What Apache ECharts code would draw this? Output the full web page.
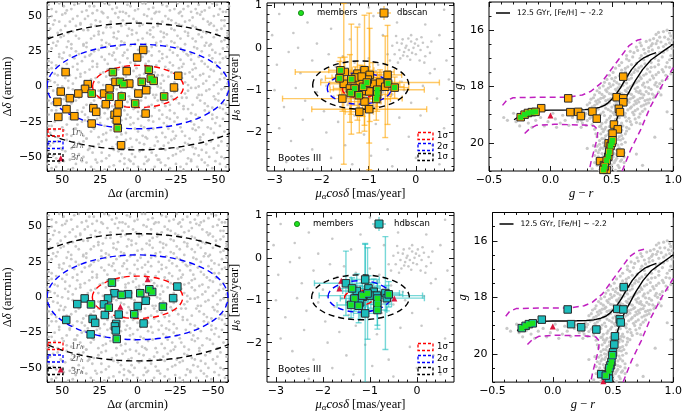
<!DOCTYPE html>
<html><head><meta charset="utf-8">
<script src="https://cdn.jsdelivr.net/npm/echarts@6/dist/echarts.min.js"></script>
<style>html,body{margin:0;padding:0;background:#fff}#c{width:685px;height:413px}</style>
</head><body><div id="c"></div>
<script>
// ---------------- tick labels ----------------
const spatialTicks=[50,25,0,-25,-50];
const pmXTicks=[-3,-2,-1,0];
const pmYTicks=[1,0,-1,-2];
const cmdXTicks=[-0.5,0,0.5,1];
const cmdYTicks=[16,18,20];

// ---------------- background (grey) stars ----------------
const bgSpatialA=[[57,-58],[52,-54],[46,-59],[41,-55],[37,-53],[31,-57],[27,-54],[22,-59],[16,-56],[12,-53],[7,-58],[3,-55],[-2,-59],[-6,-53],[-11,-57],[-15,-54],[-21,-58],[-25,-55],[-30,-59],[-35,-53],[-39,-57],[-44,-54],[-49,-58],[-54,-55],[-58,-57],
[59,-47],[54,-51],[48,-46],[43,-50],[39,-48],[33,-45],[28,-52],[24,-47],[19,-49],[13,-46],[9,-51],[4,-48],[-1,-46],[-5,-50],[-9,-47],[-14,-52],[-18,-45],[-23,-49],[-28,-46],[-33,-51],[-37,-48],[-42,-45],[-47,-50],[-52,-47],[-57,-51],
[56,-40],[51,-44],[47,-38],[42,-42],[36,-39],[32,-44],[26,-41],[21,-38],[17,-43],[10,-40],[6,-44],[1,-38],[-4,-41],[-8,-44],[-13,-39],[-17,-42],[-22,-38],[-26,-44],[-31,-40],[-36,-43],[-41,-38],[-45,-41],[-50,-44],[-55,-39],[-59,-42],
[58,-33],[53,-36],[49,-31],[44,-35],[38,-32],[34,-37],[29,-30],[23,-34],[18,-31],[14,-36],[8,-33],[2,-30],[-3,-35],[-7,-31],[-12,-36],[-16,-33],[-20,-30],[-25,-35],[-29,-32],[-34,-37],[-38,-31],[-43,-34],[-48,-30],[-53,-36],[-57,-32],
[55,-25],[50,-29],[45,-23],[40,-27],[35,-24],[30,-29],[25,-26],[20,-23],[15,-28],[11,-24],[5,-27],[0,-23],[-4,-29],[-10,-25],[-14,-23],[-19,-28],[-24,-25],[-28,-29],[-32,-23],[-37,-27],[-42,-24],[-46,-29],[-51,-26],[-56,-23],[59,-28],
[57,-17],[52,-21],[47,-16],[43,-20],[37,-18],[33,-22],[27,-15],[22,-19],[18,-22],[12,-17],[7,-20],[3,-16],[-2,-21],[-7,-18],[-11,-15],[-16,-20],[-21,-17],[-26,-22],[-30,-16],[-35,-19],[-40,-22],[-44,-17],[-49,-20],[-54,-15],[-58,-19],
[59,-10],[54,-14],[49,-9],[44,-12],[39,-8],[34,-13],[29,-10],[24,-14],[19,-8],[14,-11],[9,-14],[5,-9],[0,-12],[-5,-8],[-9,-13],[-13,-10],[-18,-14],[-23,-9],[-27,-12],[-32,-8],[-36,-13],[-41,-10],[-46,-14],[-51,-9],[-56,-12],
[56,-3],[51,-6],[46,-1],[41,-5],[36,-2],[31,-7],[26,-3],[21,-6],[16,-1],[11,-4],[6,-7],[2,-2],[-3,-5],[-8,-1],[-12,-6],[-17,-3],[-22,-7],[-26,-2],[-31,-5],[-35,-1],[-40,-6],[-45,-3],[-50,-7],[-55,-2],[-59,-5],
[58,4],[53,1],[48,6],[43,2],[38,7],[33,3],[28,6],[23,1],[18,5],[13,2],[8,7],[4,3],[-1,6],[-6,1],[-10,5],[-15,2],[-20,7],[-24,3],[-29,6],[-33,1],[-38,5],[-43,2],[-47,7],[-52,3],[-57,6],
[55,9],[50,13],[45,8],[40,12],[35,10],[30,14],[25,9],[20,12],[15,8],[10,14],[6,10],[1,13],[-4,9],[-9,12],[-13,8],[-18,14],[-22,10],[-27,13],[-31,9],[-36,12],[-41,8],[-46,14],[-50,11],[-55,9],[59,12],
[57,17],[52,21],[47,16],[42,20],[37,18],[32,22],[27,16],[22,19],[17,22],[12,17],[7,20],[2,16],[-3,21],[-7,18],[-12,15],[-16,20],[-21,17],[-26,22],[-30,16],[-35,19],[-40,21],[-44,16],[-49,20],[-54,17],[-58,21],
[59,25],[54,29],[49,24],[44,27],[39,23],[34,28],[29,25],[24,29],[19,23],[14,27],[9,24],[5,29],[0,26],[-5,23],[-9,28],[-14,25],[-19,29],[-23,24],[-28,27],[-32,23],[-37,28],[-42,25],[-47,29],[-51,24],[-56,27],
[56,31],[51,35],[46,32],[41,36],[36,30],[31,34],[26,37],[21,31],[16,35],[11,32],[7,36],[2,30],[-3,34],[-8,37],[-12,31],[-17,35],[-22,32],[-26,36],[-31,30],[-36,34],[-40,37],[-45,31],[-50,35],[-55,32],[-59,36],
[58,41],[53,38],[48,43],[43,39],[38,44],[33,40],[28,43],[23,38],[18,42],[13,39],[8,44],[4,40],[-1,43],[-6,38],[-10,42],[-15,39],[-20,44],[-24,40],[-29,43],[-33,38],[-38,42],[-43,39],[-47,44],[-52,40],[-57,43],
[55,47],[50,51],[45,46],[40,50],[35,48],[30,52],[25,46],[20,49],[15,52],[10,47],[6,50],[1,46],[-4,51],[-9,48],[-13,45],[-18,50],[-22,47],[-27,52],[-31,46],[-36,49],[-41,51],[-46,46],[-50,50],[-55,47],[59,49],
[57,55],[52,59],[47,54],[42,58],[37,53],[32,57],[27,54],[22,59],[17,55],[12,53],[7,58],[2,54],[-3,59],[-7,55],[-12,53],[-16,58],[-21,54],[-26,59],[-30,55],[-35,53],[-40,58],[-44,54],[-49,59],[-54,55],[-58,53]];
const bgSpatialB=[[60,-55],[54,-57],[49,-53],[43,-58],[34,-54],[29,-59],[24,-53],[19,-57],[9,-55],[5,-53],[0,-57],[-4,-55],[-9,-59],[-13,-52],[-18,-56],[-28,-57],[-32,-55],[-42,-52],[-46,-56],[-51,-53],
[56,-49],[50,-45],[45,-52],[36,-50],[30,-47],[21,-51],[16,-45],[11,-48],[6,-52],[2,-50],[-3,-45],[-7,-52],[-12,-49],[-20,-51],[-25,-48],[-30,-45],[-35,-52],[-40,-49],[-45,-47],[-55,-50],
[58,-42],[53,-39],[44,-44],[39,-40],[34,-37],[29,-43],[24,-39],[14,-41],[8,-38],[4,-43],[-1,-40],[-6,-37],[-11,-42],[-15,-44],[-20,-40],[-24,-37],[-33,-41],[-38,-44],[-48,-39],[-53,-42],
[60,-36],[55,-31],[47,-34],[41,-30],[36,-35],[31,-32],[26,-36],[21,-33],[16,-30],[11,-34],[5,-37],[0,-32],[-5,-36],[-10,-30],[-18,-36],[-23,-32],[-31,-35],[-36,-30],[-41,-36],[-50,-33],
[57,-28],[52,-23],[47,-27],[42,-30],[37,-25],[27,-23],[22,-28],[17,-25],[13,-30],[8,-23],[3,-26],[-2,-28],[-7,-24],[-17,-26],[-21,-23],[-26,-27],[-35,-25],[-40,-29],[-49,-23],[-54,-28],
[59,-20],[54,-17],[45,-22],[40,-17],[35,-20],[30,-18],[25,-22],[20,-16],[15,-19],[9,-17],[5,-22],[0,-18],[-4,-16],[-9,-21],[-14,-17],[-19,-22],[-24,-19],[-33,-16],[-38,-20],[-47,-18],[-52,-22],[-56,-16],
[57,-12],[52,-9],[47,-13],[41,-10],[36,-15],[31,-12],[26,-8],[21,-11],[17,-14],[12,-8],[7,-11],[2,-15],[-2,-10],[-7,-14],[-11,-8],[-16,-11],[-21,-13],[-25,-9],[-30,-14],[-39,-8],[-44,-12],[-49,-15],[-53,-10],[-58,-13],
[59,-1],[53,-4],[48,-7],[43,-2],[38,-5],[33,-1],[28,-6],[23,-3],[19,-8],[14,-2],[9,-5],[4,-1],[0,-7],[-5,-3],[-10,-6],[-15,-1],[-19,-5],[-24,-4],[-29,-8],[-33,-3],[-38,-1],[-42,-6],[-47,-2],[-53,-5],[-57,-1],
[60,7],[55,3],[50,0],[46,4],[41,6],[36,1],[31,5],[26,3],[21,7],[16,0],[11,4],[6,2],[1,7],[-3,3],[-8,6],[-13,0],[-17,4],[-22,1],[-26,6],[-31,3],[-36,7],[-40,0],[-45,4],[-50,1],[-54,5],[-59,2],
[57,13],[53,8],[48,11],[43,14],[38,9],[32,12],[27,14],[23,10],[18,8],[13,12],[8,9],[3,11],[-1,8],[-6,14],[-11,10],[-16,8],[-20,12],[-25,8],[-29,14],[-34,10],[-38,13],[-43,9],[-48,12],[-52,14],[-57,10],
[59,18],[54,15],[50,20],[45,22],[40,16],[35,21],[30,18],[24,21],[20,16],[15,19],[10,22],[5,17],[0,20],[-5,16],[-9,22],[-14,18],[-19,21],[-23,15],[-28,19],[-33,22],[-37,16],[-42,18],[-47,22],[-51,17],[-56,20],
[57,27],[52,23],[47,28],[41,25],[36,29],[31,23],[26,26],[21,28],[16,24],[12,29],[7,26],[2,23],[-2,28],[-7,25],[-12,29],[-16,23],[-21,26],[-26,28],[-30,25],[-35,23],[-39,27],[-44,29],[-49,26],[-54,23],[-59,28],
[58,35],[53,32],[49,36],[44,30],[39,34],[34,31],[29,36],[24,33],[19,30],[14,34],[9,31],[4,37],[0,33],[-5,30],[-10,35],[-15,32],[-19,37],[-24,31],[-28,34],[-33,36],[-38,32],[-42,35],[-48,30],[-52,37],[-57,33],
[56,44],[51,40],[46,38],[41,43],[36,40],[31,44],[26,39],[21,42],[16,38],[11,43],[6,41],[1,38],[-3,44],[-8,40],[-13,43],[-17,38],[-22,41],[-27,44],[-31,39],[-36,43],[-41,40],[-45,38],[-50,43],[-55,41],[-59,38],
[57,50],[52,46],[48,52],[43,48],[38,45],[33,50],[28,47],[23,52],[18,46],[13,49],[8,52],[3,48],[-1,45],[-6,50],[-11,52],[-16,46],[-20,48],[-25,45],[-29,50],[-34,47],[-39,52],[-43,48],[-48,45],[-53,51],[-57,47],
[59,58],[54,53],[49,57],[44,55],[39,59],[34,54],[29,57],[24,53],[19,58],[14,56],[10,53],[5,57],[0,55],[-5,59],[-10,56],[-14,53],[-19,57],[-24,55],[-28,53],[-33,57],[-38,55],[-42,53],[-47,56],[-52,58],[-56,53],[-60,57]];

const bgPM=[[-0.3,0.1],[-0.2,0.05],[-0.15,-0.05],[-0.25,-0.1],[-0.1,0.15],[-0.05,0.0],[-0.35,-0.05],[-0.4,0.12],[0.0,-0.15],[0.05,0.05],[-0.18,-0.2],[-0.28,0.2],[-0.12,-0.28],[0.1,-0.05],[0.15,0.12],[-0.45,-0.15],[-0.22,0.0],[-0.08,-0.12],[0.02,0.2],[-0.33,-0.25],[0.2,-0.2],[-0.5,0.05],[0.08,-0.3],[-0.16,0.22],[0.25,0.02],[-0.38,-0.35],[0.3,-0.12],[-0.02,0.1],[-0.27,-0.18],[0.12,0.25],[-0.55,-0.3],[-0.1,0.3],[0.18,-0.35],[-0.42,0.28],[0.33,0.15],
[-2.9,0.8],[-2.6,0.35],[-2.3,0.6],[-2.1,0.1],[-1.8,0.45],[-1.6,0.85],[-1.4,0.2],[-1.2,0.55],[-0.9,0.75],[-0.7,0.3],[-0.4,0.6],[0.2,0.55],[0.5,0.3],[0.6,0.9],[-2.95,-0.4],[-2.7,-0.1],[-2.45,-0.6],[-2.2,-0.3],[-2.0,-0.75],[-1.85,-0.15],[-1.7,-0.45],[-1.55,-0.2],[-1.3,-0.35],[-1.0,-0.25],[-0.8,-0.4],[-0.6,-0.15],[0.4,-0.5],[0.65,-0.3],[-3.0,-1.0],[-2.8,-1.4],[-2.55,-0.95],[-2.35,-1.25],[-2.1,-1.05],[-1.95,-1.5],[-1.75,-1.15],[-1.6,-0.95],[-1.45,-1.35],[-1.25,-0.9],[-1.05,-1.15],[-0.9,-0.7],[-0.75,-1.3],[-0.5,-1.1],[-0.3,-0.8],[-0.1,-1.3],[0.15,-0.9],[0.45,-1.2],[0.7,-0.75],[-2.9,-1.9],[-2.65,-2.2],[-2.4,-1.7],[-2.2,-2.4],[-1.9,-2.0],[-1.65,-1.75],[-1.5,-2.3],[-1.3,-1.6],[-1.1,-2.05],[-0.85,-1.8],[-0.6,-2.4],[-0.35,-1.65],[-0.15,-2.1],[0.1,-1.6],[0.35,-2.3],[0.6,-1.9],[-2.75,-2.7],[-2.3,-2.85],[-1.8,-2.6],[-1.35,-2.75],[-0.95,-2.55],[-0.5,-2.8],[0.0,-2.6],[0.5,-2.75],[-1.15,-0.6],[-1.4,-0.7],[-0.95,-1.0],[-1.3,-1.2],[-0.85,-0.55],[-1.5,-1.05],[-1.05,-0.45],[-0.7,-1.05],[-1.2,-1.35],[-1.65,-0.6],[-0.55,-0.65],[-1.9,-0.9],[-2.5,0.0],[-0.25,-1.0],[0.3,-0.6],[-2.0,0.8],[-1.0,0.95],[-0.2,0.8],[-3.05,0.3]];

const bgCMDA=[[0.45,20.95],[0.50,20.9],[0.41,20.85],[0.55,20.8],[0.47,20.75],[0.36,20.7],[0.52,20.7],[0.44,20.62],[0.58,20.6],[0.49,20.55],[0.39,20.5],[0.46,20.45],[0.54,20.42],[0.42,20.38],[0.60,20.35],[0.50,20.3],[0.37,20.28],[0.47,20.22],[0.56,20.18],[0.44,20.12],[0.52,20.08],[0.40,20.05],[0.49,20.0],[0.61,19.98],[0.46,19.92],[0.55,19.88],[0.42,19.85],[0.51,19.8],[0.38,19.78],[0.58,19.74],[0.47,19.7],[0.53,19.65],[0.43,19.6],[0.62,19.58],[0.50,19.55],[0.36,19.52],[0.56,19.48],[0.45,19.45],[0.40,19.42],[0.59,19.4],
[0.34,20.92],[0.53,20.98],[0.57,20.65],[0.43,20.88],[0.48,20.68],[0.38,20.58],[0.51,20.5],[0.45,20.3],[0.54,20.25],[0.41,20.18],[0.58,20.05],[0.47,19.98],[0.44,19.85],[0.53,19.72],[0.49,19.62],[0.61,19.68],[0.41,19.68],[0.55,19.58],[0.48,19.42],[0.52,19.5],[0.46,20.8],[0.49,20.4],[0.51,20.15],[0.43,20.0],[0.57,19.9],[0.39,20.35],[0.5,19.75],[0.64,19.5],[0.35,20.1],[0.6,20.5],
[0.26,19.3],[0.30,19.21],[0.34,19.35],[0.38,19.24],[0.42,19.31],[0.46,19.19],[0.50,19.34],[0.54,19.26],[0.58,19.3],[0.62,19.22],[0.66,19.35],[0.70,19.28],[0.28,19.05],[0.32,19.13],[0.36,19.01],[0.40,19.1],[0.44,19.03],[0.48,19.12],[0.52,19.0],[0.56,19.11],[0.60,19.02],[0.64,19.13],[0.68,19.0],[0.72,19.09],[0.27,18.9],[0.31,18.84],[0.35,18.93],[0.39,18.8],[0.43,18.91],[0.47,18.82],[0.51,18.93],[0.55,18.8],[0.59,18.9],[0.63,18.83],[0.67,18.92],[0.71,18.8],[0.75,18.88],[0.30,18.65],[0.34,18.72],[0.38,18.61],[0.42,18.7],[0.46,18.62],[0.50,18.73],[0.54,18.6],[0.58,18.71],[0.62,18.62],[0.66,18.72],[0.70,18.6],[0.74,18.7],[0.78,18.62],[0.33,18.45],[0.37,18.52],[0.41,18.42],[0.45,18.5],[0.49,18.44],[0.53,18.52],[0.57,18.42],[0.61,18.5],[0.65,18.44],[0.69,18.52],[0.73,18.42],[0.77,18.5],[0.81,18.45],
[0.36,18.3],[0.40,18.22],[0.44,18.35],[0.48,18.25],[0.52,18.32],[0.56,18.2],[0.60,18.3],[0.64,18.24],[0.68,18.36],[0.72,18.22],[0.76,18.3],[0.80,18.25],[0.85,18.33],[0.40,18.05],[0.45,18.12],[0.49,18.0],[0.53,18.1],[0.57,18.02],[0.61,18.14],[0.65,18.0],[0.69,18.08],[0.73,18.15],[0.77,18.02],[0.82,18.1],[0.87,18.0],[0.44,17.85],[0.48,17.9],[0.52,17.8],[0.56,17.92],[0.60,17.84],[0.64,17.75],[0.68,17.9],[0.72,17.8],[0.76,17.88],[0.81,17.76],[0.86,17.86],[0.91,17.8],[0.48,17.6],[0.53,17.68],[0.58,17.55],[0.63,17.62],[0.68,17.5],[0.73,17.66],[0.78,17.55],[0.83,17.62],[0.88,17.5],[0.94,17.6],[0.53,17.35],[0.58,17.42],[0.63,17.3],[0.69,17.4],[0.74,17.28],[0.79,17.38],[0.85,17.3],[0.91,17.4],[0.97,17.32],[0.58,17.15],[0.64,17.08],[0.70,17.18],[0.76,17.05],[0.82,17.15],[0.88,17.08],[0.95,17.15],
[0.62,16.9],[0.68,16.8],[0.74,16.9],[0.80,16.75],[0.86,16.88],[0.92,16.78],[0.98,16.9],[0.70,16.6],[0.76,16.68],[0.82,16.55],[0.88,16.62],[0.94,16.5],[0.99,16.65],[0.78,16.4],[0.84,16.3],[0.90,16.42],[0.96,16.32],[0.86,16.15],[0.92,16.05],[0.98,16.2],[0.95,16.0],[0.89,16.25],[0.83,16.48],[0.73,16.45],
[-0.35,19.2],[-0.28,19.25],[-0.22,19.18],[-0.18,19.3],[-0.12,19.2],[-0.08,19.1],[-0.02,19.25],[0.04,19.15],[0.08,19.3],[0.12,19.2],[0.18,19.1],[0.22,19.25],[-0.25,19.4],[-0.15,19.45],[-0.05,19.4],[0.05,19.45],[0.15,19.38],[-0.3,18.95],[0.02,18.95],[0.1,19.02],[0.2,18.98],[-0.38,19.1],[0.25,19.45],[0.9,18.3],[0.95,18.9],[0.98,19.5],[0.85,19.8],[0.7,20.4],[0.3,20.2],[0.75,20.8]];
const bgCMDB=[[0.40,20.97],[0.48,20.93],[0.56,20.88],[0.38,20.8],[0.44,20.78],[0.50,20.78],[0.53,20.62],[0.41,20.6],[0.46,20.57],[0.36,20.45],[0.43,20.48],[0.56,20.45],[0.48,20.35],[0.52,20.38],[0.40,20.25],[0.58,20.25],[0.43,20.2],[0.50,20.2],[0.38,20.12],[0.47,20.1],[0.55,20.08],[0.45,20.02],[0.52,19.95],[0.40,19.92],[0.59,19.85],[0.48,19.86],[0.37,19.68],[0.45,19.75],[0.56,19.78],[0.44,19.52],[0.58,19.55],[0.51,19.45],[0.42,19.5],[0.62,19.45],[0.47,19.58],[0.54,20.55],[0.50,20.62],[0.46,20.9],[0.39,20.7],[0.6,20.7],
[0.25,19.2],[0.29,19.38],[0.33,19.08],[0.37,19.17],[0.41,19.4],[0.45,19.27],[0.49,19.05],[0.53,19.17],[0.57,19.38],[0.61,19.08],[0.65,19.25],[0.69,19.15],[0.73,19.32],[0.24,19.05],[0.29,18.96],[0.33,18.8],[0.37,18.87],[0.41,18.98],[0.45,18.77],[0.49,18.87],[0.53,18.97],[0.57,18.86],[0.61,18.95],[0.65,18.77],[0.69,18.86],[0.73,18.97],[0.77,18.8],[0.32,18.58],[0.36,18.67],[0.40,18.55],[0.44,18.65],[0.48,18.57],[0.52,18.66],[0.56,18.55],[0.60,18.67],[0.64,18.56],[0.68,18.65],[0.72,18.55],[0.76,18.66],[0.80,18.58],[0.35,18.4],[0.39,18.47],[0.43,18.4],[0.47,18.47],[0.51,18.4],[0.55,18.46],[0.59,18.38],[0.63,18.47],[0.67,18.4],[0.71,18.47],[0.75,18.4],[0.79,18.47],[0.84,18.4],
[0.38,18.15],[0.42,18.28],[0.46,18.18],[0.50,18.27],[0.54,18.15],[0.58,18.25],[0.62,18.18],[0.66,18.28],[0.70,18.17],[0.74,18.26],[0.78,18.18],[0.83,18.27],[0.88,18.2],[0.43,17.98],[0.47,18.06],[0.51,17.94],[0.55,18.05],[0.59,17.96],[0.63,18.06],[0.67,17.95],[0.71,18.03],[0.75,17.95],[0.80,18.04],[0.85,17.94],[0.90,18.05],[0.46,17.75],[0.50,17.72],[0.54,17.86],[0.58,17.7],[0.62,17.88],[0.66,17.7],[0.70,17.85],[0.74,17.72],[0.79,17.84],[0.84,17.7],[0.89,17.9],[0.95,17.72],[0.51,17.5],[0.56,17.62],[0.61,17.48],[0.66,17.58],[0.71,17.45],[0.76,17.6],[0.81,17.48],[0.86,17.58],[0.92,17.48],[0.98,17.55],[0.56,17.25],[0.61,17.36],[0.66,17.22],[0.72,17.34],[0.77,17.2],[0.82,17.32],[0.88,17.22],[0.94,17.3],[0.62,17.02],[0.67,16.95],[0.73,17.0],[0.79,16.92],[0.85,17.0],[0.91,16.95],[0.97,17.05],
[0.65,16.75],[0.71,16.72],[0.77,16.82],[0.83,16.7],[0.89,16.8],[0.95,16.7],[0.74,16.55],[0.80,16.62],[0.86,16.48],[0.92,16.58],[0.97,16.45],[0.81,16.35],[0.87,16.38],[0.93,16.25],[0.99,16.35],[0.88,16.08],[0.97,16.1]];

// ---------------- top row: DBSCAN ----------------
const dbSpX=[-3.4,0.6,47.8,7.5,-26.5,-23.7,33.2,35,39.4,51,53.2,45,22.4,18.8,14.9,5.8,-5.4,-0.2,21.3,29.5,27.6,47.2,52.6,42,15.5,13.6,12.7,14,-5,30.6,11.2];
const dbSpY=[26,20.6,10.2,10.9,7.6,-0.7,1.7,-1.7,-5,-3.6,-10.9,-8.3,-5,-1.2,3.3,2.1,-2.6,-5,-12.6,-15.4,-18,-16.1,-21.6,-21.1,-20.1,-18.5,-12.6,-23.9,-19.2,-26.3,-41.7];
const memDbSpX=[16.6,-7.1,-8.4,-10.3,-2.4,11.9,9.7,30.6,18.8,10.8,1.9,-17.2,13.4];
const memDbSpY=[10.2,11.9,5.7,4,3.3,3.3,1.7,-5,-7.3,-7.1,-12.1,-7.1,-29.6];
const missDbSp=[[51,-51]];

const dbPmX=[-1.51,-1.53,-1.24,-1.09,-0.98,-1.19,-1.40,-1.13,-0.99,-0.91,-0.76,-0.65,-0.60,-1.56,-1.09,-1.20,-0.99,-1.28,-1.02,-1.15];
const dbPmY=[-0.57,-0.85,-0.61,-0.53,-0.64,-0.81,-0.96,-1.02,-1.03,-0.85,-0.82,-0.92,-0.64,-1.20,-1.27,-1.51,-1.45,-0.70,-0.75,-0.68];
const dbPmXe=[1.05,0.3,0.35,0.2,0.25,0.3,0.35,0.3,0.25,0.4,1.26,0.4,0.3,1.27,0.35,0.3,1.22,0.5,0.2,0.15];
const dbPmYe=[0.35,1.9,1.1,1.3,1.1,0.4,0.8,0.6,1.85,0.5,0.3,1.2,1.17,0.3,0.7,0.5,0.8,0.25,0.3,0.2];
const memDbPmX=[-1.60,-1.62,-1.37,-1.30,-1.38,-1.21,-1.12,-1.04,-0.82,-0.82,-0.84,-0.59,-0.45];
const memDbPmY=[-0.53,-0.72,-0.74,-0.96,-1.07,-1.12,-0.92,-0.82,-0.99,-1.10,-1.21,-0.84,-0.94];
const memDbPmXe=[0.25,0.3,0.2,0.3,0.2,0.25,0.2,0.2,1.0,0.3,0.3,0.25,0.3];
const memDbPmYe=[0.3,0.4,1.3,0.4,0.5,0.5,0.3,0.3,0.4,0.4,0.5,0.3,0.25];
const missDbPm=[[-1.2,-0.9]];

const dbCmdX=[0.145,0.162,0.226,0.248,0.342,0.377,-0.075,0.593,0.539,0.593,0.593,0.557,0.566,0.517,0.549,0.506,0.474,0.571,0.404,0.436,0.458];
const dbCmdY=[18.42,18.91,18.90,19.05,18.89,19.14,18.77,17.65,18.38,18.42,18.56,18.79,18.91,19.35,19.52,19.67,20.02,20.35,20.65,20.79,20.96];
const memDbCmdX=[-0.242,-0.21,-0.183,-0.151,-0.121,0.49,0.5,0.471,0.458,0.442,0.506,0.431,0.479];
const memDbCmdY=[19.09,19.0,18.94,18.91,18.90,20.11,20.0,20.49,20.63,20.84,19.91,20.96,20.32];
const missDbCmd=[[0.0,19.03]];

// ---------------- bottom row: HDBSCAN ----------------
const hdSpX=[-26.4,-23.6,15.3,6.3,19.6,35.1,40,22.3,21.7,-0.1,-5.4,12.5,29.8,28.1,14.2,15,14.4,-4,47.3,31.1];
const hdSpY=[7.6,-0.6,2.9,2.2,-0.8,-0.8,-4.8,-5,-12.5,-6.2,-2.4,-12.2,-15.3,-18.1,-18.8,-20.6,-23.4,-18.5,-16,-26.2];
const memHdSpX=[17,-1.8,-9.7,-7.8,10.6,30.9,19.1,2.2,-16.8,13.8];
const memHdSpY=[10.4,2.9,3.8,5.7,1.7,-5,-7.3,-12,-6.6,-29.5];
const missHdSp=[[-6.7,12.7],[12.5,3.8],[11.4,-6.6],[51,-51]];

const hdPmX=[-1.51,-1.10,-1.28,-1.03,-0.92,-0.98,-1.15,-1.21,-1.10,-0.67,-0.64,-0.85];
const hdPmY=[-0.60,-0.51,-0.78,-0.72,-0.80,-0.89,-0.92,-1.05,-1.31,-0.83,-0.95,-0.89];
const hdPmXe=[0.67,0.3,0.3,0.25,0.2,1.1,0.2,0.3,0.25,0.3,0.8,0.2];
const hdPmYe=[0.76,0.85,0.4,0.3,0.3,0.3,0.25,0.4,1.63,1.33,0.3,0.2];
const memHdPmX=[-1.38,-1.33,-1.40,-1.24,-1.16,-1.05,-0.84,-0.84,-0.84,-0.60];
const memHdPmY=[-0.72,-0.96,-1.11,-1.13,-0.89,-0.84,-0.96,-1.09,-1.23,-0.86];
const memHdPmXe=[0.3,0.3,0.3,0.2,0.2,0.2,0.3,0.3,0.2,0.3];
const memHdPmYe=[0.25,0.3,0.3,0.4,0.3,1.08,0.3,0.5,0.45,0.3];
const missHdPm=[[-1.61,-0.54],[-1.65,-0.72],[-0.48,-0.96],[-1.26,-0.92]];

const hdCmdX=[0.124,0.152,0.236,0.362,-0.091,0.589,0.535,0.586,0.556,0.564,0.516,0.511,0.402,0.465,0.50];
const hdCmdY=[18.43,18.95,19.06,19.14,18.79,17.64,18.41,18.43,18.78,18.89,19.38,19.67,20.72,20.87,19.95];
const memHdCmdX=[-0.257,-0.225,-0.198,-0.166,0.487,0.479,0.466,0.44,0.495,0.47];
const memHdCmdY=[19.09,19.01,18.95,18.92,20.29,20.41,20.61,20.77,20.05,20.5];
const missHdCmd=[[-0.153,18.92],[0.0,19.03],[0.496,20.17],[0.42,20.97]];

// ---------------- ellipses [cx, cy, a, b] ----------------
const spatialEllipses=[[0,0,30,15],[0,0,60,30],[0,0,90,45]];
const pmEllDb=[[-1.18,-0.98,0.38,0.2],[-1.2,-0.96,0.68,0.37],[-1.17,-0.88,1.02,0.57]];
const pmEllHd=[[-1.23,-0.94,0.31,0.18],[-1.22,-0.91,0.67,0.37],[-1.2,-0.93,1.04,0.53]];

// ---------------- isochrone & selection envelope ----------------
const isoHB=[[-0.296,19.18],[-0.26,19.08],[-0.22,18.98],[-0.17,18.9],[-0.1,18.85],[0.0,18.84],[0.1,18.84],[0.2,18.83],[0.28,18.82],[0.34,18.8],[0.40,18.74],[0.44,18.67],[0.47,18.58],[0.50,18.45],[0.53,18.3],[0.57,18.05],[0.61,17.75],[0.66,17.4],[0.71,17.15],[0.76,16.98],[0.81,16.88],[0.86,16.8]];
const isoRGB=[[0.44,21.0],[0.46,20.6],[0.48,20.2],[0.50,19.9],[0.52,19.5],[0.545,19.1],[0.57,18.8],[0.60,18.5],[0.64,18.2],[0.69,17.8],[0.75,17.4],[0.82,17.05],[0.90,16.8],[0.96,16.62],[1.0,16.5]];
const envUpper=[[-0.39,18.67],[-0.358,18.5],[-0.304,18.4],[-0.1,18.38],[0.14,18.38],[0.26,18.3],[0.33,18.17],[0.41,17.89],[0.477,17.5],[0.557,17.03],[0.638,16.56],[0.706,16.36],[0.76,16.3]];
const envLower=[[-0.21,19.67],[-0.17,19.5],[-0.116,19.38],[0.032,19.34],[0.275,19.37],[0.356,19.4],[0.388,19.55],[0.377,19.9],[0.356,20.26],[0.334,20.61],[0.315,21.0]];
const envRight=[[0.584,21.0],[0.652,20.26],[0.733,19.55],[0.813,18.73],[0.908,17.97],[1.0,17.33]];

// ================= build chart =================
const ORANGE='#ffa500', CYAN='#1cbcbc', GREEN='#1ee01e', RED='#dc143c', GREY='#c2c2c2', MAG='#c020c0';
const grids=[
 {left:42,top:2,width:187,height:169},
 {left:267,top:2,width:187,height:169},
 {left:489,top:2,width:186,height:169},
 {left:40,top:212.5,width:188,height:171.5},
 {left:267,top:212.5,width:187,height:171.5},
 {left:492.5,top:212.5,width:185.5,height:171.5}];
const xAxes=[], yAxes=[], series=[], graphic=[];
const minus=s=>s.replace('-','\u2212');
const fmtInt=v=>minus(String(Math.round(v)));
const fmt1=v=>minus((Math.round(v*10)/10).toFixed(1));
function minors(a,b,step,majors){const r=[];for(let v=Math.ceil(a/step)*step;v<=b+1e-9;v+=step){const q=Math.round(v/step)*step;if(!majors.some(m=>Math.abs(m-q)<1e-6))r.push(+q.toFixed(4));}return r;}
const serifRich={i:{fontStyle:'italic',fontFamily:'Liberation Serif',fontSize:12.5},s:{fontStyle:'italic',fontFamily:'Liberation Serif',fontSize:9,verticalAlign:'bottom',lineHeight:10}};
function addAxes(g,c){
  const idx=xAxes.length;
  const base={gridIndex:g,type:'value',axisLine:{show:false,onZero:false},splitLine:{show:false}};
  const bx={...base,min:c.x[0],max:c.x[1],inverse:!!c.xinv};
  const by={...base,min:c.y[0],max:c.y[1],inverse:!!c.yinv};
  const tk=(vals,len)=>({show:true,inside:true,length:len,customValues:vals,lineStyle:{color:'#000',width:0.9}});
  const nts={fontFamily:'Liberation Serif',fontSize:12.5,color:'#000',lineHeight:14,rich:serifRich};
  xAxes.push({...bx,position:'bottom',axisTick:tk(c.xt,5),axisLabel:{customValues:c.xt,formatter:c.xf,margin:4,fontSize:11,color:'#000',fontFamily:'DejaVu Sans'},
    name:c.xn,nameLocation:'middle',nameGap:c.xg,nameTextStyle:nts});
  xAxes.push({...bx,position:'top',axisTick:tk(c.xt,5),axisLabel:{show:false}});
  xAxes.push({...bx,position:'bottom',axisTick:tk(c.xm,2.5),axisLabel:{show:false}});
  xAxes.push({...bx,position:'top',axisTick:tk(c.xm,2.5),axisLabel:{show:false}});
  yAxes.push({...by,position:'left',axisTick:tk(c.yt,5),axisLabel:{customValues:c.yt,formatter:c.yf,margin:5,fontSize:11,color:'#000',fontFamily:'DejaVu Sans'},
    name:c.yn,nameLocation:'middle',nameGap:c.yg,nameTextStyle:nts});
  yAxes.push({...by,position:'right',axisTick:tk(c.yt,5),axisLabel:{show:false}});
  yAxes.push({...by,position:'left',axisTick:tk(c.ym,2.5),axisLabel:{show:false}});
  yAxes.push({...by,position:'right',axisTick:tk(c.ym,2.5),axisLabel:{show:false}});
  return idx;
}
function scat(ai,data,sym,size,color,border,z,opacity){
  series.push({type:'scatter',xAxisIndex:ai,yAxisIndex:ai,data,symbol:sym,symbolSize:size,z,silent:true,
    itemStyle:{color,borderColor:border||null,borderWidth:border?1:0,opacity:opacity==null?1:opacity}});
}
function line(ai,data,color,width,dash,z){
  series.push({type:'line',xAxisIndex:ai,yAxisIndex:ai,data,showSymbol:false,symbol:'none',z,silent:true,clip:true,
    lineStyle:{color,width,type:dash?[6,4]:'solid'}});
}
function ellipses(ai,data,colors,z){
  series.push({type:'custom',xAxisIndex:ai,yAxisIndex:ai,data,z,clip:true,silent:true,
    renderItem:(p,api)=>{const c=api.coord([api.value(0),api.value(1)]);const s=api.size([api.value(2),api.value(3)]);
      return {type:'ellipse',shape:{cx:c[0],cy:c[1],rx:Math.abs(s[0]),ry:Math.abs(s[1])},
        style:{fill:null,stroke:colors[p.dataIndex],lineWidth:1.4,lineDash:[6,4]}};}});
}
function errbars(ai,xs,ys,xe,ye,color,z){
  const data=xs.map((x,i)=>[x,ys[i],xe[i],ye[i]]);
  series.push({type:'custom',xAxisIndex:ai,yAxisIndex:ai,data,z,clip:true,silent:true,
    renderItem:(p,api)=>{const x=api.value(0),y=api.value(1),dx=api.value(2),dy=api.value(3);
      const l=api.coord([x-dx,y]),r=api.coord([x+dx,y]),t=api.coord([x,y+dy]),b=api.coord([x,y-dy]);
      const st={stroke:color,lineWidth:1.4},k=3;
      const L=(x1,y1,x2,y2)=>({type:'line',shape:{x1,y1,x2,y2},style:st});
      return {type:'group',children:[L(l[0],l[1],r[0],r[1]),L(t[0],t[1],b[0],b[1]),
        L(l[0],l[1]-k,l[0],l[1]+k),L(r[0],r[1]-k,r[0],r[1]+k),L(t[0]-k,t[1],t[0]+k,t[1]),L(b[0]-k,b[1],b[0]+k,b[1])]};}});
}
const zip=(a,b)=>a.map((v,i)=>[v,b[i]]);
const sigColors=['#ff0000','#0000ff','#000000'];
const SQ=7.5, GS=5.2;

// ----- axes -----
const spCfg=(g)=>({x:[-60,60],xinv:true,y:[-60,60],xt:spatialTicks,yt:spatialTicks,xm:minors(-60,60,5,spatialTicks),ym:minors(-60,60,5,spatialTicks),xf:fmtInt,yf:fmtInt,
  xn:'\u0394{i|\u03b1} (arcmin)',yn:'\u0394{i|\u03b4} (arcmin)',xg:g,yg:26});
const pmCfg=(xr,yr,g)=>({x:xr,y:yr,xt:pmXTicks,yt:pmYTicks,xm:minors(xr[0],xr[1],0.2,pmXTicks),ym:minors(yr[0],yr[1],0.2,pmYTicks),xf:fmtInt,yf:fmtInt,
  xn:'{i|\u03bc}{s|\u03b1}{i|cos\u03b4} [mas/year]',yn:'{i|\u03bc}{s|\u03b4} [mas/year]',xg:g,yg:22});
const cmdCfg=(g)=>({x:[-0.5,1.0],y:[15,21],yinv:true,xt:cmdXTicks,yt:cmdYTicks,xm:minors(-0.5,1.0,0.1,cmdXTicks),ym:minors(15,21,0.5,cmdYTicks),xf:fmt1,yf:fmtInt,
  xn:'{i|g} \u2212 {i|r}',yn:'{i|g}',xg:g,yg:22});
const A1=addAxes(0,spCfg(15));
const A2=addAxes(1,pmCfg([-3.16,0.81],[-2.91,1.06],15));
const A3=addAxes(2,cmdCfg(15));
const A4=addAxes(3,spCfg(13));
const A5=addAxes(4,pmCfg([-3.19,0.79],[-2.93,1.07],13));
const A6=addAxes(5,cmdCfg(13));

// ----- spatial panels -----
[[A1,dbSpX,dbSpY,memDbSpX,memDbSpY,missDbSp,ORANGE],[A4,hdSpX,hdSpY,memHdSpX,memHdSpY,missHdSp,CYAN]].forEach(([a,sx,sy,mx,my,miss,col])=>{
  scat(a,bgSpatialA.concat(bgSpatialB),'circle',2.8,GREY,null,1,0.9);
  ellipses(a,spatialEllipses,sigColors,3);
  scat(a,miss,'triangle',6,RED,null,4);
  scat(a,zip(sx,sy).concat(zip(mx,my)),'rect',SQ,col,'#2a2a2a',5);
  scat(a,zip(mx,my),'rect',GS,GREEN,null,6);
});
// ----- proper-motion panels -----
[[A2,dbPmX,dbPmY,dbPmXe,dbPmYe,memDbPmX,memDbPmY,memDbPmXe,memDbPmYe,missDbPm,pmEllDb,ORANGE,'rgba(255,165,0,0.6)'],
 [A5,hdPmX,hdPmY,hdPmXe,hdPmYe,memHdPmX,memHdPmY,memHdPmXe,memHdPmYe,missHdPm,pmEllHd,CYAN,'rgba(30,190,190,0.6)']].forEach(([a,x,y,xe,ye,mx,my,mxe,mye,miss,ell,col,ecol])=>{
  scat(a,bgPM,'circle',2.6,GREY,null,1,0.9);
  errbars(a,x.concat(mx),y.concat(my),xe.concat(mxe),ye.concat(mye),ecol,2);
  ellipses(a,ell,sigColors,3);
  scat(a,miss,'triangle',6,RED,null,4);
  scat(a,zip(x,y).concat(zip(mx,my)),'rect',SQ,col,'#2a2a2a',5);
  scat(a,zip(mx,my),'rect',GS,GREEN,null,6);
});
// ----- CMD panels -----
[[A3,dbCmdX,dbCmdY,memDbCmdX,memDbCmdY,missDbCmd,ORANGE],[A6,hdCmdX,hdCmdY,memHdCmdX,memHdCmdY,missHdCmd,CYAN]].forEach(([a,sx,sy,mx,my,miss,col])=>{
  scat(a,bgCMDA.concat(bgCMDB),'circle',3.2,GREY,null,1,0.9);
  line(a,envUpper,MAG,1.5,true,2);line(a,envLower,MAG,1.5,true,2);line(a,envRight,MAG,1.5,true,2);
  line(a,isoHB,'#000',1.4,false,3);line(a,isoRGB,'#000',1.4,false,3);
  scat(a,miss,'triangle',6,RED,null,4);
  scat(a,zip(sx,sy).concat(zip(mx,my)),'rect',SQ,col,'#2a2a2a',5);
  scat(a,zip(mx,my),'rect',GS,GREEN,null,6);
});

// ----- legends (graphic) -----
const T=(x,y,text,size,extra)=>graphic.push({type:'text',x,y,z:20,style:Object.assign({text,fontSize:size,fontFamily:'DejaVu Sans',fill:'#000',verticalAlign:'middle',align:'left'},extra||{})});
const box=(x,y,color)=>graphic.push({type:'rect',x,y:y-3.5,z:20,shape:{width:15,height:7},style:{fill:null,stroke:color,lineWidth:1.3,lineDash:[3,2]}});
const rhRich={i:{fontStyle:'italic',fontFamily:'Liberation Serif',fontSize:10},s:{fontStyle:'italic',fontFamily:'Liberation Serif',fontSize:7,verticalAlign:'bottom',lineHeight:8}};
[[132.5,145,157.5],[346,358.5,371]].forEach((ys)=>{
  ['1','2','3'].forEach((n,i)=>{box(48,ys[i],sigColors[i]);T(71,ys[i],n+'{i|r}{s|h}',10,{fill:'#555',fontFamily:'Liberation Serif',rich:rhRich});});
});
// PM legends
[[13,'dbscan',ORANGE,'rgba(255,165,0,0.6)',301,384,317,397,[136,147,157],278,159],[224,'hdbscan',CYAN,'rgba(30,190,190,0.6)',297,379,313,394,[347,359,371],278,370]].forEach(([y,lab,col,ecol,gx,sx,tx1,tx2,sig,bx,by])=>{
  graphic.push({type:'circle',x:gx,y,z:20,shape:{r:2.6},style:{fill:GREEN,stroke:'#0a7a0a',lineWidth:0.8}});
  T(tx1,y,'members',8.5);
  graphic.push({type:'line',z:20,shape:{x1:sx-7,y1:y,x2:sx+7,y2:y},style:{stroke:ecol,lineWidth:1.4}});
  graphic.push({type:'line',z:20,shape:{x1:sx,y1:y-7,x2:sx,y2:y+7},style:{stroke:ecol,lineWidth:1.4}});
  graphic.push({type:'rect',x:sx-4,y:y-4,z:21,shape:{width:8,height:8},style:{fill:col,stroke:'#2a2a2a',lineWidth:1}});
  T(tx2,y,lab,8.5);
  ['1\u03c3','2\u03c3','1\u03c3'].forEach((s,i)=>{box(418,sig[i],sigColors[i]);T(437,sig[i],s,8.5);});
  T(bx,by,'Bootes III',9.3);
});
// CMD legends
[[489,13],[492.5,224]].forEach(([x0,y])=>{
  graphic.push({type:'line',z:20,shape:{x1:x0+7,y1:y,x2:x0+21,y2:y},style:{stroke:'#000',lineWidth:1.5}});
  T(x0+28,y,'12.5 GYr, [Fe/H] ~ -2.2',7.6);
});

const chart=echarts.init(document.getElementById('c'),null,{renderer:'canvas'});
chart.setOption({animation:false,
  grid:grids.map(g=>({...g,show:true,borderColor:'#000',borderWidth:1,backgroundColor:'transparent',containLabel:false})),
  xAxis:xAxes,yAxis:yAxes,series,graphic});
</script></body></html>
